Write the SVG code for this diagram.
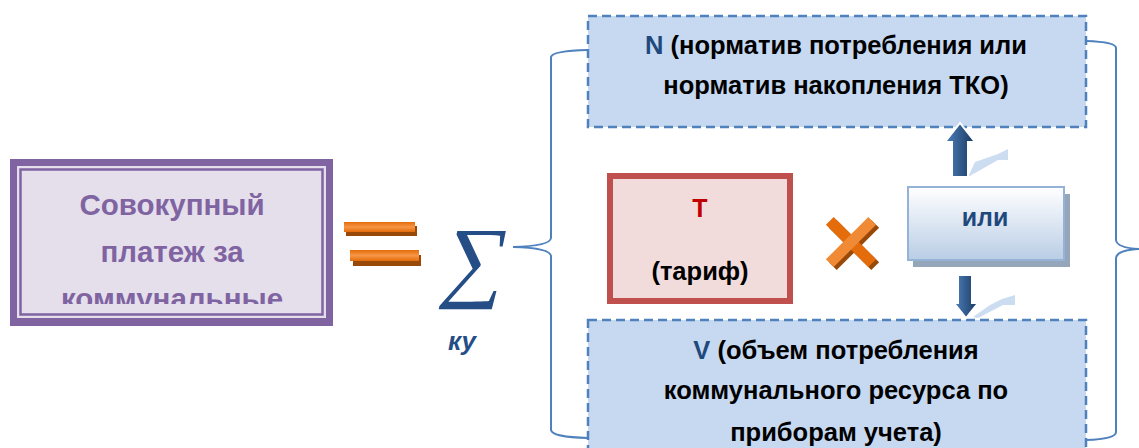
<svg xmlns="http://www.w3.org/2000/svg" width="1139" height="448" viewBox="0 0 1139 448">
<style>
.t{font-family:"Liberation Sans",Arial,sans-serif;font-weight:bold;text-anchor:middle}
.blk{fill:#000000;font-size:25.5px}
.dash{fill:#C6D9F1;stroke:#4F81BD;stroke-width:2.5;stroke-dasharray:9 5}
.brace{fill:none;stroke:#4F81BD;stroke-width:2}
.refl{fill:#C6D9F1;opacity:0.9}
.arr{fill:url(#gArr);stroke:#FFFFFF;stroke-width:2}
</style>
<defs>
<linearGradient id="gOr" x1="0" y1="0" x2="0" y2="1">
<stop offset="0" stop-color="#E46C0A"/><stop offset="0.5" stop-color="#F79646"/><stop offset="1" stop-color="#E46C0A"/>
</linearGradient>
<linearGradient id="gIli" x1="0" y1="0" x2="0" y2="1">
<stop offset="0" stop-color="#FFFFFF"/><stop offset="1" stop-color="#B9CDE5"/>
</linearGradient>
<linearGradient id="gArr" x1="0" y1="0" x2="1" y2="0">
<stop offset="0" stop-color="#4F81BD"/><stop offset="1" stop-color="#17375E"/>
</linearGradient>
<clipPath id="clipL"><rect x="22" y="172" width="300" height="132"/></clipPath>
</defs>

<g id="connectors">
<path class="brace" d="M588,50 Q552,51 551,57 L551,238 Q550,246 513,247 Q550,248 551,256 L551,430 Q552,437 588,438"/>
<path class="brace" d="M1086,41 Q1116,42 1116,48 L1116,240 Q1117,248 1140,249 Q1117,250 1116,258 L1116,432 Q1116,439 1086,440"/>
</g>

<g id="total">
<rect x="10" y="159" width="323" height="167" fill="#8064A2"/>
<rect x="17" y="166" width="309" height="152" fill="#E5DFEC"/>
<rect x="20.5" y="169.5" width="302" height="145" fill="#E5DFEC" stroke="#8064A2" stroke-width="2.5"/>
<g clip-path="url(#clipL)">
<text class="t" x="172" y="215" font-size="29.5" fill="#8064A2">Совокупный</text>
<text class="t" x="172" y="262" font-size="29.5" fill="#8064A2">платеж за</text>
<text class="t" x="172" y="309" font-size="29.5" fill="#8064A2">коммунальные</text>
</g>
</g>

<g id="equals">
<rect x="346" y="226" width="71" height="10" fill="#984807"/>
<rect x="344" y="222" width="71" height="10" fill="url(#gOr)"/>
<rect x="353" y="255" width="68" height="11" fill="#984807"/>
<rect x="350" y="250" width="69" height="11" fill="url(#gOr)"/>
</g>

<g id="sum">
<g transform="translate(476,266) skewX(-12)">
<text x="0" y="24" font-family="'Liberation Serif','DejaVu Serif',serif" font-size="90" fill="#254E86" text-anchor="middle">∑</text>
</g>
<text x="462" y="350" font-family="'Liberation Sans',Arial,sans-serif" font-weight="bold" font-style="italic" font-size="26" fill="#254E86" text-anchor="middle">ку</text>
</g>

<g id="N">
<rect class="dash" x="588" y="16" width="498" height="111"/>
<text class="t blk" x="836" y="54"><tspan fill="#1F497D">N</tspan> (норматив потребления или</text>
<text class="t blk" x="836" y="94">норматив накопления ТКО)</text>
</g>

<g id="V">
<rect class="dash" x="588" y="320" width="498" height="150"/>
<text class="t blk" x="836" y="359"><tspan fill="#1F497D">V</tspan> (объем потребления</text>
<text class="t blk" x="836" y="399">коммунального ресурса по</text>
<text class="t blk" x="836" y="441">приборам учета)</text>
</g>

<g id="T">
<rect x="610" y="176" width="180" height="125" fill="#F2DCDB" stroke="#C0504D" stroke-width="6"/>
<text class="t" x="700" y="217" font-size="25" fill="#C00000">Т</text>
<text class="t blk" x="700" y="280">(тариф)</text>
</g>

<g id="times">
<g transform="translate(854,245) rotate(45)">
<rect x="-30" y="-5.5" width="60" height="11" fill="#984807"/>
<rect x="-5.5" y="-30" width="11" height="60" fill="#984807"/>
</g>
<g transform="translate(851,242) rotate(45)">
<rect x="-30" y="-5.5" width="60" height="11" fill="#E46C0A"/>
<rect x="-5.5" y="-30" width="11" height="60" fill="#F08A35"/>
</g>
</g>

<g id="ili">
<rect x="913" y="194" width="157" height="73" fill="#95A6BB"/>
<rect x="908" y="187" width="156" height="73" fill="url(#gIli)" stroke="#95B3D7" stroke-width="2"/>
<text class="t" x="985" y="226" font-size="25" fill="#1F497D">или</text>
</g>

<g id="arrowUp">
<polygon class="refl" points="968,177 975,162 998,154 1008,149 1008,160 998,160"/>
<polygon class="arr" points="960,123 975,142 968,142 968,177 952,177 952,142 945,142"/>
</g>

<g id="arrowDown">
<polygon class="refl" points="973,317 990,305 1002,299 1015,295 1015,305 1003,305 978,318"/>
<polygon class="arr" points="958,275 972,275 972,303 978,303 966,318 954,303 958,303"/>
</g>
</svg>
